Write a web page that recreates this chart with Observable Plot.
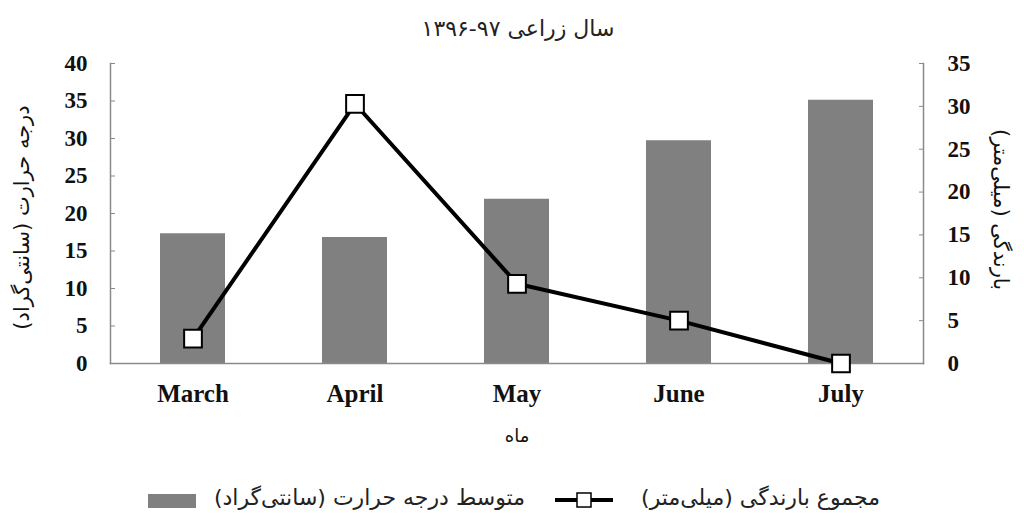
<!DOCTYPE html>
<html><head><meta charset="utf-8">
<script src="https://cdn.jsdelivr.net/npm/d3@7"></script>
<script src="https://cdn.jsdelivr.net/npm/@observablehq/plot@0.6"></script>
<style>
body{margin:0;background:#fff;width:1024px;height:525px;overflow:hidden;}
#title{height:50px;position:relative;}
#title span{position:absolute;left:0;width:1036px;top:16px;text-align:center;font:22px "DejaVu Sans";color:#222;direction:rtl;}
#chart{height:415px;}
#legend{position:relative;height:60px;font:22px "DejaVu Sans";color:#222;}
.lg{position:absolute;white-space:nowrap;direction:rtl;}
</style></head><body>
<div id="title"><span>سال زراعی ۹۷-۱۳۹۶</span></div>
<div id="chart"></div>
<div id="legend"></div>
<script>
const months = ["March", "April", "May", "June", "July"];
const temperature = [17.3, 16.8, 21.9, 29.7, 35.1];
const rainfall = [2.9, 30.3, 9.3, 5.0, 0];
const leftTicks = [0, 5, 10, 15, 20, 25, 30, 35, 40];
const rightTicks = [0, 5, 10, 15, 20, 25, 30, 35];
const tempLabel = "درجه حرارت (سانتی‌گراد)";
const rainLabel = "بارندگی (میلی‌متر)";
const xLabel = "ماه";
const legendTemp = "متوسط درجه حرارت (سانتی‌گراد)";
const legendRain = "مجموع بارندگی (میلی‌متر)";

const k = 40 / 35;
const data = months.map((m, i) => ({month: m, temp: temperature[i], rain: rainfall[i] * k}));
const axisColor = "#8a8a8a";
const persian = "DejaVu Sans";

const chart = Plot.plot({
  width: 1024, height: 415,
  marginLeft: 110, marginRight: 101, marginTop: 13, marginBottom: 102,
  style: {fontFamily: "Liberation Serif", fontWeight: "bold", fontSize: "23px", color: "#111", background: "#fff", overflow: "visible"},
  x: {domain: months, paddingInner: 0.6, paddingOuter: 0.3, label: null},
  y: {domain: [0, 40], label: null},
  marks: [
    Plot.barY(data, {x: "month", y: "temp", fill: "#808080"}),
    Plot.frame({anchor: "left", stroke: axisColor, strokeWidth: 1.5}),
    Plot.frame({anchor: "right", stroke: axisColor, strokeWidth: 1.5}),
    Plot.frame({anchor: "bottom", stroke: axisColor, strokeWidth: 1.5}),
    Plot.axisY(leftTicks, {anchor: "left", tickSize: -5, tickPadding: 28, stroke: axisColor, fontSize: 23}),
    Plot.axisY(rightTicks.map(v => v * k), {anchor: "right", tickSize: -5, tickPadding: 29, stroke: axisColor, fontSize: 23, tickFormat: d => Math.round(d / k)}),
    Plot.axisX({tickSize: 0, tickPadding: 21, fontSize: 25}),
    Plot.line(data, {x: "month", y: "rain", stroke: "#000", strokeWidth: 4}),
    Plot.dot(data, {x: "month", y: "rain", symbol: "square", r: 10, fill: "#fff", stroke: "#000", strokeWidth: 2}),
    Plot.text([tempLabel], {frameAnchor: "left", textAnchor: "middle", rotate: -90, dx: -88, dy: 4, fontFamily: persian, fontSize: 21, fontWeight: "normal"}),
    Plot.text([rainLabel], {frameAnchor: "right", textAnchor: "middle", rotate: 90, dx: 77, dy: -4, fontFamily: persian, fontSize: 21, fontWeight: "normal"}),
    Plot.text([xLabel], {frameAnchor: "bottom", textAnchor: "middle", dy: 78, fontFamily: persian, fontSize: 18, fontWeight: "normal"})
  ]
});
document.getElementById("chart").append(chart);

const lg = document.getElementById("legend");
lg.innerHTML = `
<div style="position:absolute;left:148px;top:29px;width:48px;height:14px;background:#808080"></div>
<div class="lg" style="right:${1024-525}px;top:20px">${legendTemp}</div>
<svg style="position:absolute;left:555px;top:25px" width="58" height="20"><line x1="0" y1="10" x2="58" y2="10" stroke="#000" stroke-width="4"/><rect x="22" y="3" width="14" height="14" fill="#fff" stroke="#000" stroke-width="1.5"/></svg>
<div class="lg" style="right:${1024-880}px;top:20px">${legendRain}</div>`;
</script>
</body></html>
